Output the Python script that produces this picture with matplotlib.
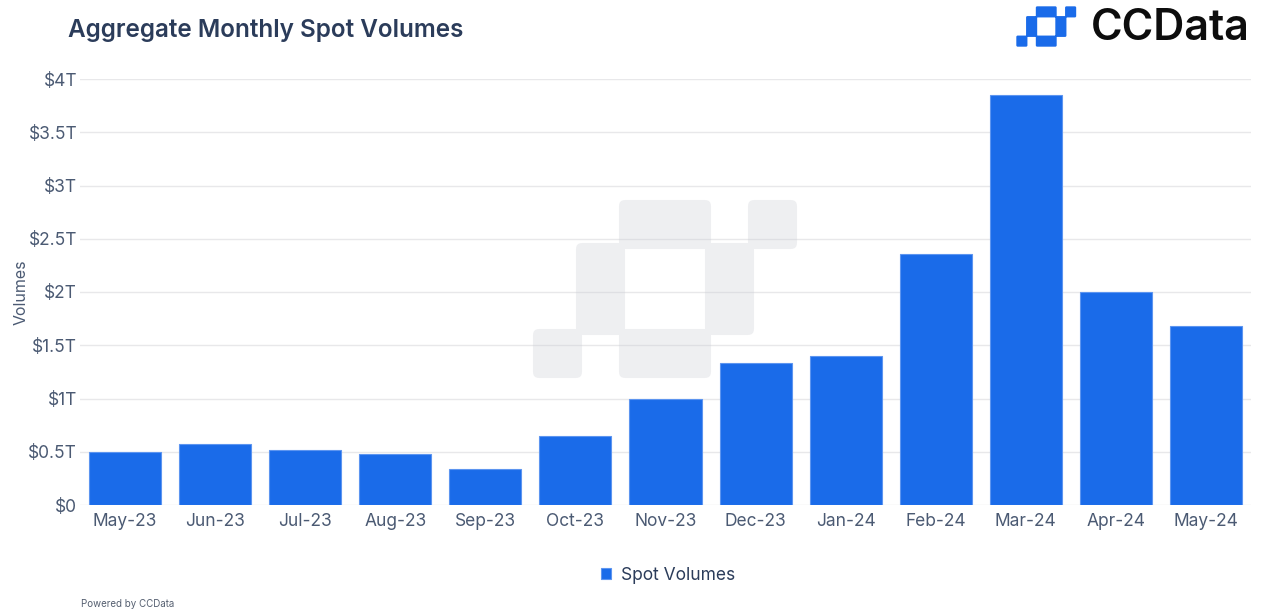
import matplotlib.pyplot as plt
from matplotlib.patches import FancyBboxPatch, PathPatch
from matplotlib.path import Path
from matplotlib.transforms import Affine2D
from matplotlib.ticker import FuncFormatter

months = ['May-23', 'Jun-23', 'Jul-23', 'Aug-23', 'Sep-23', 'Oct-23', 'Nov-23',
          'Dec-23', 'Jan-24', 'Feb-24', 'Mar-24', 'Apr-24', 'May-24']
# spot volumes in trillions of USD
volumes = [0.50, 0.57, 0.52, 0.48, 0.34, 0.65, 1.00, 1.33, 1.40, 2.36, 3.85, 2.00, 1.68]
yticks = [0, 0.5, 1, 1.5, 2, 2.5, 3, 3.5, 4]

W, H = 1261, 610
plt.rcParams['font.family'] = ['Inter', 'DejaVu Sans']
fig = plt.figure(figsize=(W / 100, H / 100), dpi=100)
fig.patch.set_facecolor('white')

bar_col = '#1a6be9'
txt_col = '#4b5a73'
px = Affine2D().scale(1 / W, 1 / H) + fig.transFigure


def logo(x0, y0, cell, **kw):
    # CCData mark: blocks on a 6x4 grid (col, row, ncols, nrows), top-left origin in pixels
    blocks = [(5, 0, 1, 1), (2, 0, 2, 1), (1, 1, 1, 2), (4, 1, 1, 2), (2, 3, 2, 1), (0, 3, 1, 1)]
    e = 0.07 * cell
    paths = []
    for c, r, nc, nr in blocks:
        left = x0 + c * cell - e
        bottom = H - (y0 + (r + nr) * cell + e)
        b = FancyBboxPatch((left, bottom), nc * cell + 2 * e, nr * cell + 2 * e,
                           boxstyle='round,pad=0,rounding_size=%f' % (0.14 * cell))
        paths.append(b.get_path())
    return PathPatch(Path.make_compound_path(*paths), transform=px, ec='none',
                     clip_on=False, **kw)


ax = fig.add_axes([80 / W, 1 - 505 / H, (1251 - 80) / W, (505 - 79) / H])

bars = ax.bar(range(len(months)), volumes, width=0.8, color=bar_col,
              edgecolor='#5d95f0', linewidth=0.8, label='Spot Volumes', zorder=3)

ax.set_xlim(-0.5, len(months) - 0.5)
ax.set_ylim(0, 4)
ax.set_yticks(yticks)
ax.yaxis.set_major_formatter(FuncFormatter(
    lambda v, _: '$0' if v == 0 else ('$%gT' % v)))
ax.set_xticks(range(len(months)))
ax.set_xticklabels(months)
ax.tick_params(axis='both', length=0, labelsize=12.5, colors=txt_col)
ax.tick_params(axis='x', pad=6)
ax.tick_params(axis='y', pad=2)
ax.grid(axis='y', color='#e8e8ea', lw=1.0)
ax.set_axisbelow(True)
for s in ax.spines.values():
    s.set_visible(False)
ax.set_ylabel('Volumes', fontsize=11.5, color=txt_col, labelpad=0)

# translucent watermark between grid and bars
ax.add_patch(logo(536, 203, 43, fc='#c9ccd3', alpha=0.3, zorder=2))

fig.text(68 / W, 1 - 30 / H, 'Aggregate Monthly Spot Volumes', fontsize=17.5,
         fontweight='semibold', color='#2b3c5a', va='center', ha='left')

# brand logo top right
fig.patches.append(logo(1017, 7, 9.75, fc=bar_col, zorder=5))
fig.text(1250 / W, 1 - 29 / H, 'CCData', fontsize=31, fontweight='semibold',
         color='#0d0d0d', va='center', ha='right')

fig.text(81 / W, 1 - 604 / H, 'Powered by CCData', fontsize=7, color='#555f70',
         va='center', ha='left')

leg = fig.legend(handles=[bars], labels=['Spot Volumes'], loc='center',
                 bbox_to_anchor=(668 / W, 1 - 575 / H), frameon=False,
                 fontsize=12.5, handlelength=0.6, handleheight=0.6,
                 handletextpad=0.6)
for t in leg.get_texts():
    t.set_color('#2b3c5a')

fig.savefig('out.png', dpi=100, facecolor='white')
